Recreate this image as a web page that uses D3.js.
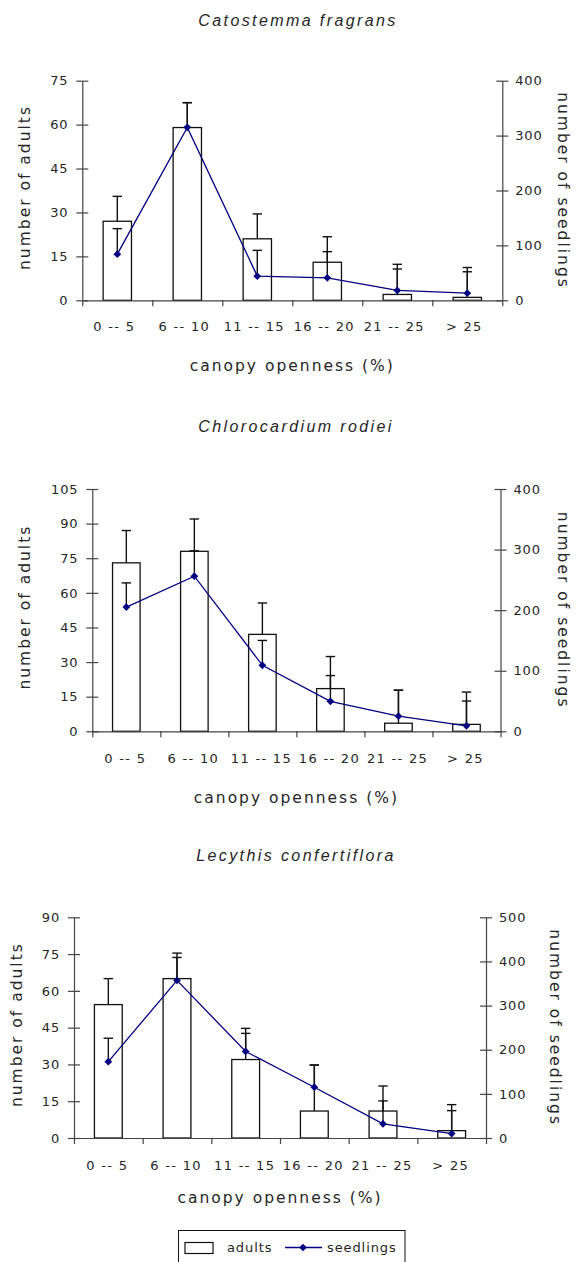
<!DOCTYPE html>
<html>
<head>
<meta charset="utf-8">
<script src="https://cdn.jsdelivr.net/npm/d3@7"></script>
<style>
  body { margin: 0; background: #fff; }
  svg { display: block; }
</style>
</head>
<body>
<svg id="chart" width="576" height="1262"></svg>
<script>
// Canopy-openness classes shared by all three species
const categories = ["0 -- 5", "6 -- 10", "11 -- 15", "16 -- 20", "21 -- 25", "> 25"];

// Catostemma fragrans
const catostemmaAdults      = [27, 59, 21, 13, 2, 1];
const catostemmaAdultsSE    = [8.5, 8.5, 8.5, 8.7, 10.3, 10.2];
const catostemmaSeedlings   = [84, 315, 44, 41, 18, 13];
const catostemmaSeedlingsSE = [46.5, 45, 47, 47.6, 39, 39];

// Chlorocardium rodiei
const chlorocardiumAdults      = [73, 78, 42, 18.5, 3.5, 3];
const chlorocardiumAdultsSE    = [14, 14, 13.6, 13.9, 14.3, 14];
const chlorocardiumSeedlings   = [205, 256, 109, 49.5, 25, 9];
const chlorocardiumSeedlingsSE = [40, 42, 41, 42.5, 43, 41];

// Lecythis confertiflora
const lecythisAdults      = [54.4, 65, 32, 11, 11, 3];
const lecythisAdultsSE    = [10.6, 10.4, 12.7, 18.8, 10.2, 10.6];
const lecythisSeedlings   = [173, 357, 196, 115, 32, 10];
const lecythisSeedlingsSE = [53, 52, 41, 50, 52, 52];

// Axis tick values
const catostemmaAdultTicks     = [0, 15, 30, 45, 60, 75];
const catostemmaSeedlingTicks  = [0, 100, 200, 300, 400];
const chlorocardiumAdultTicks    = [0, 15, 30, 45, 60, 75, 90, 105];
const chlorocardiumSeedlingTicks = [0, 100, 200, 300, 400];
const lecythisAdultTicks     = [0, 15, 30, 45, 60, 75, 90];
const lecythisSeedlingTicks  = [0, 100, 200, 300, 400, 500];

const species = [
  { name: "Catostemma fragrans", adults: catostemmaAdults, adultsSE: catostemmaAdultsSE,
    seedlings: catostemmaSeedlings, seedlingsSE: catostemmaSeedlingsSE,
    adultTicks: catostemmaAdultTicks, seedlingTicks: catostemmaSeedlingTicks },
  { name: "Chlorocardium rodiei", adults: chlorocardiumAdults, adultsSE: chlorocardiumAdultsSE,
    seedlings: chlorocardiumSeedlings, seedlingsSE: chlorocardiumSeedlingsSE,
    adultTicks: chlorocardiumAdultTicks, seedlingTicks: chlorocardiumSeedlingTicks },
  { name: "Lecythis confertiflora", adults: lecythisAdults, adultsSE: lecythisAdultsSE,
    seedlings: lecythisSeedlings, seedlingsSE: lecythisSeedlingsSE,
    adultTicks: lecythisAdultTicks, seedlingTicks: lecythisSeedlingTicks }
];

// Page layout of each panel
const layouts = [
  { left: 82.3, right: 502.3, top: 80.7, bottom: 300.3, titleX: 298, titleY: 20.7,
    leftTitleX: 25, rightTitleX: 563, catDy: 26, xTitleDy: 65, catShift: -3 },
  { left: 92.3, right: 500.5, top: 489, bottom: 731.3, titleX: 296, titleY: 426.7,
    leftTitleX: 25, rightTitleX: 563, catDy: 27, xTitleDy: 66, catShift: -1 },
  { left: 74, right: 486, top: 917.3, bottom: 1138, titleX: 296, titleY: 855,
    leftTitleX: 17, rightTitleX: 555, catDy: 27, xTitleDy: 60, catShift: -1 }
];

const AXIS = "#444";
const TEXT = "#262626";
const NAVY = "#000080";
const tickFont = "DejaVu Sans, Verdana, sans-serif";

const svg = d3.select("#chart");

function drawPanel(sp, lay) {
  const g = svg.append("g");
  const x = d3.scaleBand().domain(categories).range([lay.left, lay.right]).paddingInner(0).paddingOuter(0);
  const xEdge = d3.scaleLinear().domain([0, categories.length]).range([lay.left, lay.right]);
  const yA = d3.scaleLinear().domain([0, d3.max(sp.adultTicks)]).range([lay.bottom, lay.top]);
  const yS = d3.scaleLinear().domain([0, d3.max(sp.seedlingTicks)]).range([lay.bottom, lay.top]);
  const barW = x.bandwidth() * 0.405;
  const cx = d => x(d) + x.bandwidth() / 2;

  // species title
  g.append("text")
    .attr("x", lay.titleX).attr("y", lay.titleY).attr("dy", "0.35em")
    .attr("text-anchor", "middle")
    .style("font-family", "Liberation Sans, Arial, sans-serif")
    .style("font-style", "italic").style("font-size", "16px")
    .style("letter-spacing", "2.4px").style("fill", TEXT)
    .text(sp.name);

  // bars (adults)
  g.selectAll("rect.bar").data(categories).join("rect")
    .attr("class", "bar")
    .attr("x", d => cx(d) - barW / 2)
    .attr("y", (d, i) => yA(sp.adults[i]))
    .attr("width", barW)
    .attr("height", (d, i) => yA(0) - yA(sp.adults[i]))
    .attr("fill", "#fff").attr("stroke", "#111").attr("stroke-width", 1.3);

  // upper error bars for adults and seedlings
  const errorBars = (vals, ses, y) => {
    const eg = g.append("g");
    categories.forEach((c, i) => {
      const x0 = cx(c), y0 = y(vals[i]), y1 = y(vals[i] + ses[i]);
      eg.append("line").attr("x1", x0).attr("x2", x0).attr("y1", y0).attr("y2", y1)
        .attr("stroke", "#111").attr("stroke-width", 1.4);
      eg.append("line").attr("x1", x0 - 4.7).attr("x2", x0 + 4.7).attr("y1", y1).attr("y2", y1)
        .attr("stroke", "#111").attr("stroke-width", 1.4);
    });
  };
  errorBars(sp.adults, sp.adultsSE, yA);
  errorBars(sp.seedlings, sp.seedlingsSE, yS);

  // seedlings line + diamonds
  const line = d3.line().x((d, i) => cx(categories[i])).y(d => yS(d));
  g.append("path").datum(sp.seedlings).attr("d", line)
    .attr("fill", "none").attr("stroke", NAVY).attr("stroke-width", 1.3);
  g.selectAll("path.mk").data(sp.seedlings).join("path")
    .attr("class", "mk")
    .attr("d", d3.symbol().type(d3.symbolSquare).size(30))
    .attr("transform", (d, i) => `translate(${cx(categories[i])},${yS(d)}) rotate(45)`)
    .attr("fill", NAVY);

  // x axis: boundary ticks
  const xa = g.append("g").attr("transform", `translate(0,${lay.bottom})`)
    .call(d3.axisBottom(xEdge).tickValues(d3.range(categories.length + 1)).tickFormat("").tickSize(6).tickSizeOuter(0));
  xa.select(".domain").attr("stroke", AXIS).attr("stroke-width", 1.2);
  xa.selectAll(".tick line").attr("stroke", AXIS).attr("stroke-width", 1.2);

  // x axis: category labels
  const xl = g.append("g").attr("transform", `translate(${lay.catShift},${lay.bottom})`)
    .call(d3.axisBottom(x).tickSize(0));
  xl.select(".domain").remove();
  xl.selectAll("text").attr("y", lay.catDy).attr("dy", "0.35em")
    .style("font-family", tickFont).style("font-size", "13px")
    .style("letter-spacing", "1.3px").attr("fill", TEXT);

  // left axis
  const yl = g.append("g").attr("transform", `translate(${lay.left},0)`)
    .call(d3.axisLeft(yA).tickValues(sp.adultTicks).tickSize(6).tickSizeOuter(0).tickPadding(8));
  yl.select(".domain").attr("stroke", AXIS).attr("stroke-width", 1.2);
  yl.selectAll(".tick line").attr("x1", 6).attr("stroke", AXIS).attr("stroke-width", 1.2);
  yl.selectAll("text").style("font-family", tickFont).style("font-size", "13px")
    .style("letter-spacing", "0.8px").attr("fill", TEXT);

  // right axis
  const yr = g.append("g").attr("transform", `translate(${lay.right},0)`)
    .call(d3.axisRight(yS).tickValues(sp.seedlingTicks).tickSize(6).tickSizeOuter(0).tickPadding(7));
  yr.select(".domain").attr("stroke", AXIS).attr("stroke-width", 1.2);
  yr.selectAll(".tick line").attr("x1", -6).attr("stroke", AXIS).attr("stroke-width", 1.2);
  yr.selectAll("text").style("font-family", tickFont).style("font-size", "13px")
    .style("letter-spacing", "0.8px").attr("fill", TEXT);

  // axis titles
  const titleStyle = sel => sel.style("font-family", tickFont).style("font-size", "15.5px")
    .style("letter-spacing", "2px").attr("fill", TEXT).attr("text-anchor", "middle");
  const midY = (lay.top + lay.bottom) / 2;
  g.append("text").call(titleStyle)
    .attr("transform", `translate(${lay.leftTitleX},${midY - 3}) rotate(-90)`)
    .attr("dy", "0.35em").text("number of adults");
  g.append("text").call(titleStyle)
    .attr("transform", `translate(${lay.rightTitleX},${midY}) rotate(90)`)
    .attr("dy", "0.35em").text("number of seedlings");
  g.append("text").call(titleStyle)
    .attr("x", (lay.left + lay.right) / 2).attr("y", lay.bottom + lay.xTitleDy)
    .attr("dy", "0.35em").text("canopy openness (%)");
}

species.forEach((sp, i) => drawPanel(sp, layouts[i]));

// legend
const lg = svg.append("g");
lg.append("rect").attr("x", 178.5).attr("y", 1230.5).attr("width", 226.5).attr("height", 40)
  .attr("fill", "#fff").attr("stroke", "#111").attr("stroke-width", 1);
lg.append("rect").attr("x", 185).attr("y", 1242.5).attr("width", 28).attr("height", 11)
  .attr("fill", "#fff").attr("stroke", "#111").attr("stroke-width", 1.2);
lg.append("text").attr("x", 227).attr("y", 1247).attr("dy", "0.35em")
  .style("font-family", tickFont).style("font-size", "13px").style("letter-spacing", "0.9px")
  .attr("fill", TEXT).text("adults");
lg.append("line").attr("x1", 285).attr("x2", 322).attr("y1", 1247.5).attr("y2", 1247.5)
  .attr("stroke", NAVY).attr("stroke-width", 1.3);
lg.append("path").attr("d", d3.symbol().type(d3.symbolSquare).size(30))
  .attr("transform", "translate(303,1247.5) rotate(45)").attr("fill", NAVY);
lg.append("text").attr("x", 327).attr("y", 1247).attr("dy", "0.35em")
  .style("font-family", tickFont).style("font-size", "13px").style("letter-spacing", "0.9px")
  .attr("fill", TEXT).text("seedlings");
</script>
</body>
</html>
